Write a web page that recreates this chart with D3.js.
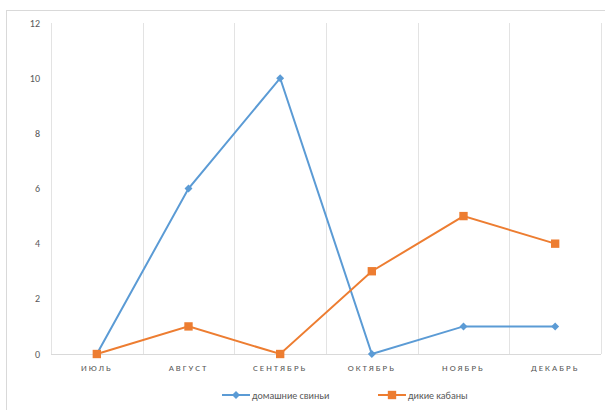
<!DOCTYPE html>
<html>
<head>
<meta charset="utf-8">
<script src="https://cdn.jsdelivr.net/npm/d3@7"></script>
<style>
  body { margin: 0; background: #fff; }
  svg { font-family: Calibri, Carlito, "Liberation Sans", "DejaVu Sans", sans-serif; }
</style>
</head>
<body>
<svg width="605" height="410"></svg>
<script>
  const months = ['ИЮЛЬ', 'АВГУСТ', 'СЕНТЯБРЬ', 'ОКТЯБРЬ', 'НОЯБРЬ', 'ДЕКАБРЬ'];
  const pigs = [0, 6, 10, 0, 1, 1];
  const boars = [0, 1, 0, 3, 5, 4];
  const yTicks = [0, 2, 4, 6, 8, 10, 12];
  const seriesNames = ['домашние свиньи', 'дикие кабаны'];
  const seriesColors = ['#5B9BD5', '#ED7D31'];

  const svg = d3.select('svg');

  // chart frame
  svg.append('rect')
    .attr('x', 6.5).attr('y', 10.5)
    .attr('width', 610).attr('height', 420)
    .attr('fill', '#fff')
    .attr('stroke', '#d9d9d9');

  const x = d3.scaleBand()
    .domain(months)
    .range([51, 601])
    .paddingInner(0).paddingOuter(0);

  const y = d3.scaleLinear()
    .domain([0, 12])
    .range([354, 23]);

  // vertical gridlines between categories
  const edges = months.map(m => x(m)).concat([x.range()[1]]);
  svg.append('g').selectAll('line')
    .data(edges)
    .enter().append('line')
      .attr('x1', d => Math.round(d) + 0.5)
      .attr('x2', d => Math.round(d) + 0.5)
      .attr('y1', y(12))
      .attr('y2', y(0))
      .attr('stroke', '#e3e3e3');

  // baseline
  svg.append('line')
    .attr('x1', 51).attr('x2', 601)
    .attr('y1', y(0) + 0.5).attr('y2', y(0) + 0.5)
    .attr('stroke', '#d9d9d9');

  // y labels
  svg.append('g').selectAll('text')
    .data(yTicks)
    .enter().append('text')
      .attr('x', 40)
      .attr('y', d => y(d))
      .attr('dy', '0.35em')
      .attr('text-anchor', 'end')
      .attr('font-size', '10px')
      .attr('fill', '#595959')
      .text(d => d);

  // x labels
  svg.append('g').selectAll('text')
    .data(months)
    .enter().append('text')
      .attr('x', d => x(d) + x.bandwidth() / 2)
      .attr('y', 368)
      .attr('dy', '0.35em')
      .attr('text-anchor', 'middle')
      .attr('font-size', '9px')
      .attr('letter-spacing', '2px')
      .attr('fill', '#595959')
      .text(d => d);

  const cx = i => x(months[i]) + x.bandwidth() / 2;
  const line = d3.line()
    .x((d, i) => cx(i))
    .y(d => y(d));

  const diamond = d3.symbol().type(d3.symbolDiamond2).size(40);
  const square = d3.symbol().type(d3.symbolSquare).size(70);

  [pigs, boars].forEach((vals, s) => {
    svg.append('path')
      .datum(vals)
      .attr('d', line)
      .attr('fill', 'none')
      .attr('stroke', seriesColors[s])
      .attr('stroke-width', 2);

    svg.append('g').selectAll('path')
      .data(vals)
      .enter().append('path')
        .attr('transform', (d, i) => `translate(${cx(i)},${y(d)})`)
        .attr('d', s === 0 ? diamond : square)
        .attr('fill', seriesColors[s]);
  });

  // legend
  const legendX = [222, 378];
  const legend = svg.append('g');
  seriesNames.forEach((name, s) => {
    const g = legend.append('g')
      .attr('transform', `translate(${legendX[s]},395)`);
    g.append('line')
      .attr('x1', 0).attr('x2', 28)
      .attr('stroke', seriesColors[s])
      .attr('stroke-width', 2);
    g.append('path')
      .attr('transform', 'translate(14,0)')
      .attr('d', s === 0 ? diamond : square)
      .attr('fill', seriesColors[s]);
    g.append('text')
      .attr('x', 30)
      .attr('dy', '0.35em')
      .attr('font-size', '10px')
      .attr('fill', '#595959')
      .text(name);
  });
</script>
</body>
</html>
